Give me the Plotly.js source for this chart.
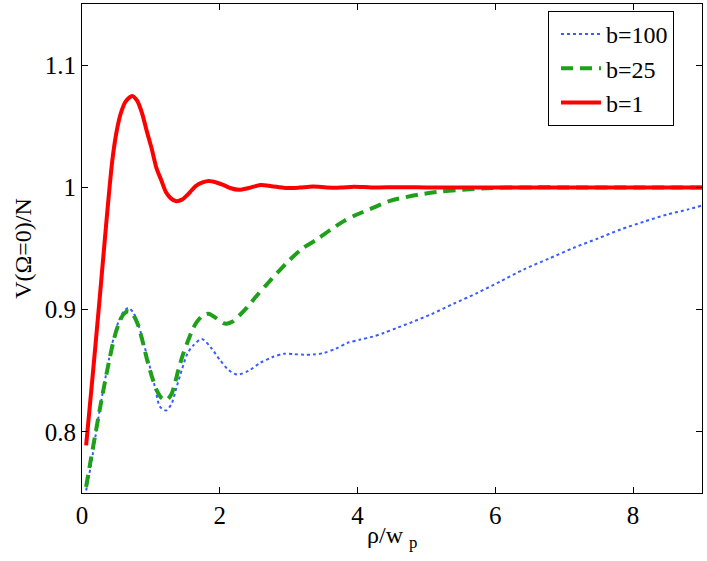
<!DOCTYPE html>
<html>
<head>
<meta charset="utf-8">
<script src="https://cdn.plot.ly/plotly-3.0.1.min.js"></script>
<style>
  html, body {margin: 0; padding: 0; background: #fff;}
  #plot {width: 707px; height: 561px;}
</style>
</head>
<body>
<div id="plot"></div>
<script>
/////Data/////
const b100_x = [0.06, 0.14, 0.20, 0.26, 0.32, 0.39, 0.46, 0.53, 0.60, 0.67, 0.74, 0.81, 0.87,
  0.94, 1.01, 1.07, 1.13, 1.22, 1.30, 1.37, 1.45, 1.53, 1.62, 1.74, 1.87, 2.00, 2.12, 2.25,
  2.42, 2.59, 2.76, 2.93, 3.08, 3.22, 3.36, 3.51, 3.68, 3.85, 4.04, 4.23, 4.38, 4.57, 4.80,
  5.06, 5.40, 5.74, 6.07, 6.41, 6.78, 7.14, 7.48, 7.82, 8.16, 8.50, 8.80, 9.00];
const b100_y = [0.752, 0.776, 0.798, 0.819, 0.838, 0.859, 0.877, 0.890, 0.898, 0.9014, 0.898,
  0.889, 0.878, 0.863, 0.848, 0.834, 0.8207, 0.8175, 0.823, 0.836, 0.851, 0.864, 0.871, 0.876,
  0.869, 0.859, 0.851, 0.8469, 0.850, 0.8566, 0.861, 0.8639, 0.8636, 0.8631, 0.8633, 0.8645,
  0.868, 0.8727, 0.8755, 0.878, 0.8809, 0.885, 0.890, 0.896, 0.905, 0.9137, 0.923, 0.9328,
  0.9418, 0.9506, 0.958, 0.9656, 0.972, 0.9779, 0.982, 0.9852];

const b25_x = [0.06, 0.13, 0.20, 0.26, 0.32, 0.39, 0.46, 0.53, 0.60, 0.67, 0.74, 0.81, 0.88,
  0.94, 1.01, 1.085, 1.16, 1.23, 1.30, 1.35, 1.40, 1.47, 1.545, 1.607, 1.667, 1.75, 1.836,
  1.95, 2.05, 2.10, 2.18, 2.28, 2.39, 2.53, 2.68, 2.85, 3.02, 3.20, 3.41, 3.60, 3.80, 4.00,
  4.23, 4.47, 4.70, 4.91, 5.20, 5.45, 5.80, 6.17, 6.60, 7.00, 8.00, 9.00];
const b25_y = [0.755, 0.778, 0.800, 0.819, 0.837, 0.857, 0.875, 0.888, 0.896, 0.8986, 0.896,
  0.888, 0.874, 0.860, 0.846, 0.834, 0.8275, 0.8262, 0.831, 0.840, 0.851, 0.864, 0.8754, 0.884,
  0.890, 0.895, 0.8967, 0.893, 0.889, 0.8885, 0.890, 0.895, 0.9014, 0.911, 0.9205, 0.931,
  0.941, 0.950, 0.9574, 0.965, 0.9724, 0.978, 0.9834, 0.989, 0.992, 0.9943, 0.9965, 0.9978,
  0.999, 0.9998, 1.0, 1.0, 1.0, 1.0];

const b1_x = [0.06, 0.15, 0.25, 0.32, 0.38, 0.44, 0.50, 0.56, 0.63, 0.73, 0.80, 0.87, 0.94,
  1.01, 1.08, 1.15, 1.22, 1.29, 1.36, 1.45, 1.55, 1.65, 1.75, 1.84, 1.95, 2.05, 2.15, 2.28,
  2.42, 2.59, 2.75, 2.95, 3.15, 3.35, 3.55, 3.75, 3.95, 4.20, 4.60, 5.00, 6.00, 7.00, 8.00, 9.00];
const b1_y = [0.789, 0.843, 0.905, 0.950, 0.988, 1.022, 1.045, 1.060, 1.070, 1.0748, 1.071,
  1.061, 1.046, 1.032, 1.016, 1.006, 0.996, 0.991, 0.9888, 0.990, 0.995, 1.001, 1.004, 1.0052,
  1.004, 1.002, 0.9995, 0.998, 0.9995, 1.0019, 1.001, 0.9995, 0.9998, 1.0007, 1.0, 0.9998,
  1.0006, 0.9999, 1.0002, 1.0, 1.0, 1.0, 1.0, 1.0];

const series_names = ['b=100', 'b=25', 'b=1'];
const x_ticks = [0, 2, 4, 6, 8];
const y_ticks = [0.8, 0.9, 1, 1.1];
const y_tick_labels = ['0.8', '0.9', '1', '1.1'];
const x_title = 'ρ/w <sub>p</sub>';
const y_title = 'V(Ω=0)/N';

/////Plot/////
const FONT = '"Liberation Serif", "Times New Roman", Times, serif';

let traces = [
  {
    x: b100_x, y: b100_y, name: series_names[0], mode: 'lines',
    line: {color: '#3a5cff', width: 2, dash: 'dot', shape: 'spline', smoothing: 0.8},
  },
  {
    x: b25_x, y: b25_y, name: series_names[1], mode: 'lines',
    line: {color: '#1fa01a', width: 4, dash: '12px,7px', shape: 'spline', smoothing: 0.8},
  },
  {
    x: b1_x, y: b1_y, name: series_names[2], mode: 'lines',
    line: {color: '#ff0000', width: 4, shape: 'spline', smoothing: 0.8},
  },
];

let axis_common = {
  showgrid: false, zeroline: false,
  showline: true, mirror: 'ticks', linecolor: '#000', linewidth: 1,
  ticks: 'inside', ticklen: 6, tickcolor: '#000', tickwidth: 1,
  tickfont: {family: FONT, size: 25, color: '#000'},
};

const LAYOUT = {
  width: 707, height: 561,
  margin: {l: 82, r: 5, t: 4, b: 68},
  paper_bgcolor: '#fff', plot_bgcolor: '#fff',
  font: {family: FONT, color: '#000'},
  showlegend: true,
  legend: {
    x: 0.7516, y: 0.9857, xanchor: 'left', yanchor: 'top',
    bgcolor: '#fff', bordercolor: '#000', borderwidth: 1,
    itemwidth: 40, tracegroupgap: 0, indentation: 7,
    font: {family: FONT, size: 24, color: '#000'},
  },
  xaxis: Object.assign({}, axis_common, {
    range: [0, 9], tickvals: x_ticks,
  }),
  yaxis: Object.assign({}, axis_common, {
    range: [0.75, 1.15], tickvals: y_ticks, ticktext: y_tick_labels,
    title: {text: y_title, font: {family: FONT, size: 24}, standoff: 6},
  }),
  annotations: [{
    text: x_title, xref: 'paper', yref: 'paper', x: 0.5, y: -0.09,
    xanchor: 'center', yanchor: 'middle', showarrow: false,
    font: {family: FONT, size: 24, color: '#000'},
  }],
};

Plotly.newPlot('plot', traces, LAYOUT, {displayModeBar: false, staticPlot: true});
</script>
</body>
</html>
